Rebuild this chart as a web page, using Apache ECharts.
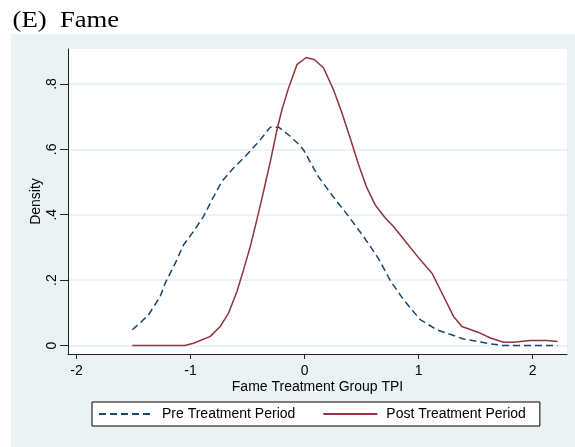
<!DOCTYPE html>
<html lang="en">
<head>
    <meta charset="UTF-8">
    <title>(E) Fame</title>
    <script src="https://cdn.jsdelivr.net/npm/echarts@6/dist/echarts.min.js"></script>
    <style>
        html, body { margin: 0; padding: 0; background: #fff; }
        #chart { width: 575px; height: 447px; }
    </style>
</head>
<body>
    <div id="chart"></div>
    <script>
        // kernel density, pre treatment period
        var preX = [-1.511, -1.44, -1.368, -1.266, -1.222, -1.134, -1.061, -0.974, -0.886, -0.812, -0.725, -0.623, -0.505, -0.389, -0.30, -0.228, -0.125, -0.053, -0.01, 0.12, 0.25, 0.386, 0.518, 0.65, 0.75, 0.868, 1.015, 1.16, 1.395, 1.63, 1.74, 2.22];
        var preY = [0.048, 0.07, 0.094, 0.15, 0.191, 0.252, 0.308, 0.349, 0.395, 0.446, 0.502, 0.543, 0.584, 0.629, 0.668, 0.668, 0.64, 0.616, 0.599, 0.517, 0.456, 0.395, 0.333, 0.265, 0.2, 0.14, 0.079, 0.048, 0.02, 0.005, 0, 0];

        // kernel density, post treatment period
        var postX = [-1.511, -1.05, -0.974, -0.827, -0.74, -0.667, -0.593, -0.535, -0.476, -0.418, -0.36, -0.30, -0.242, -0.198, -0.14, -0.067, 0.015, 0.088, 0.167, 0.254, 0.328, 0.40, 0.474, 0.547, 0.62, 0.708, 0.78, 0.898, 1.015, 1.12, 1.22, 1.307, 1.38, 1.526, 1.63, 1.745, 1.83, 1.98, 2.12, 2.22];
        var postY = [0, 0, 0.007, 0.028, 0.058, 0.099, 0.165, 0.232, 0.303, 0.385, 0.471, 0.563, 0.66, 0.722, 0.788, 0.859, 0.881, 0.874, 0.849, 0.782, 0.711, 0.635, 0.553, 0.482, 0.43, 0.39, 0.364, 0.313, 0.262, 0.22, 0.15, 0.089, 0.058, 0.04, 0.023, 0.01, 0.01, 0.015, 0.015, 0.012];

        var xTicks = [-2, -1, 0, 1, 2];
        var yTicks = [0, 0.2, 0.4, 0.6, 0.8];

        function zip(xs, ys) {
            return xs.map(function (x, i) { return [x, ys[i]]; });
        }

        var chart = echarts.init(document.getElementById('chart'));

        var option = {
            animation: false,
            backgroundColor: '#ffffff',
            graphic: [
                {
                    type: 'rect',
                    z: -10,
                    shape: { x: 11, y: 34, width: 564, height: 413 },
                    style: { fill: '#eaf2f3' }
                },
                {
                    // panel title, the serif face in the original is wider than Liberation Serif
                    type: 'text',
                    x: 12.5,
                    y: 9,
                    scaleX: 1.16,
                    style: {
                        text: '(E)  Fame',
                        font: '23px "Liberation Serif"',
                        fill: '#000',
                        textAlign: 'left',
                        textVerticalAlign: 'top'
                    }
                }
            ],
            grid: {
                left: 68,
                right: 8,
                top: 49,
                bottom: 93,
                show: true,
                backgroundColor: '#ffffff',
                borderWidth: 0
            },
            xAxis: {
                type: 'value',
                min: -2.075,
                max: 2.302,
                name: 'Fame Treatment Group TPI',
                nameLocation: 'middle',
                nameGap: 26,
                nameMoveOverlap: false,
                nameTextStyle: { fontFamily: 'Liberation Sans', fontSize: 14, color: '#000' },
                axisLine: { onZero: false, lineStyle: { color: '#222', width: 1 } },
                axisTick: { customValues: xTicks, length: 5, lineStyle: { color: '#222' } },
                axisLabel: {
                    customValues: xTicks,
                    margin: 10,
                    fontFamily: 'Liberation Sans',
                    fontSize: 14,
                    color: '#000'
                },
                splitLine: { show: false }
            },
            yAxis: {
                type: 'value',
                min: -0.026,
                max: 0.907,
                name: 'Density',
                nameLocation: 'middle',
                nameGap: 25,
                nameMoveOverlap: false,
                nameTextStyle: { fontFamily: 'Liberation Sans', fontSize: 14, color: '#000' },
                axisLine: { show: true, onZero: false, lineStyle: { color: '#222', width: 1 } },
                axisTick: { show: true, customValues: yTicks, length: 8, lineStyle: { color: '#222' } },
                axisLabel: {
                    customValues: yTicks,
                    rotate: 90,
                    margin: 9,
                    fontFamily: 'Liberation Sans',
                    fontSize: 14,
                    color: '#000',
                    formatter: function (v) {
                        return v === 0 ? '0' : String(+v.toFixed(1)).replace(/^0/, '');
                    }
                },
                splitLine: { show: true, lineStyle: { color: '#e6eff0', width: 1.5 } }
            },
            legend: {
                left: 92,
                top: 402,
                padding: [5, 14, 5, 6],
                itemGap: 27,
                itemWidth: 54,
                itemHeight: 14,
                backgroundColor: '#ffffff',
                borderColor: '#000',
                borderWidth: 1,
                borderRadius: 0,
                itemStyle: { opacity: 0 },
                textStyle: { fontFamily: 'Liberation Sans', fontSize: 14, color: '#000', padding: [0, 0, 0, 4] },
                data: ['Pre Treatment Period', 'Post Treatment Period']
            },
            series: [
                {
                    name: 'Pre Treatment Period',
                    type: 'line',
                    symbol: 'none',
                    data: zip(preX, preY),
                    lineStyle: { color: '#1a476f', width: 1.5, type: [7, 4] },
                    itemStyle: { color: '#1a476f' }
                },
                {
                    name: 'Post Treatment Period',
                    type: 'line',
                    symbol: 'none',
                    data: zip(postX, postY),
                    lineStyle: { color: '#90353b', width: 1.5 },
                    itemStyle: { color: '#90353b' }
                }
            ]
        };

        chart.setOption(option);
    </script>
</body>
</html>
